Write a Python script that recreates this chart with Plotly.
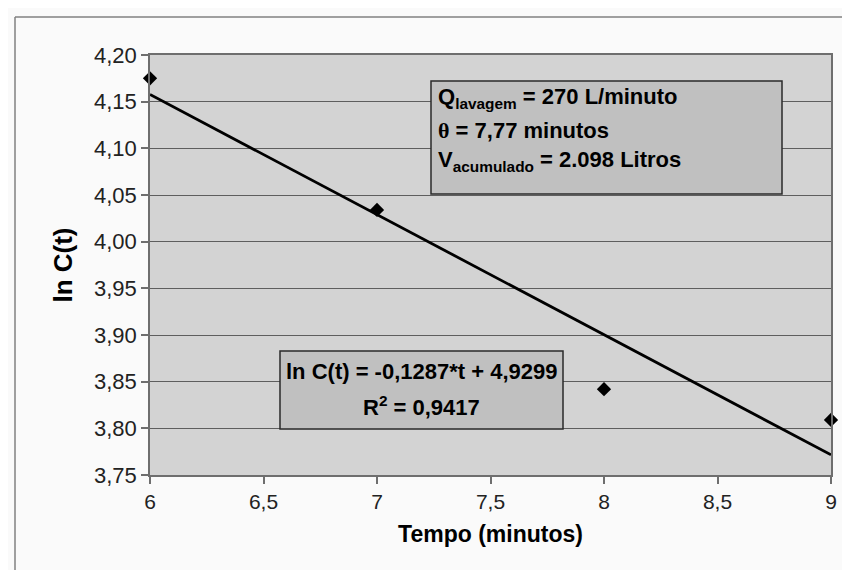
import plotly.graph_objects as go

# Data
tempo = [6, 7, 8, 9]
ln_c = [4.175, 4.034, 3.842, 3.809]
fit_slope = -0.1287
fit_intercept = 4.9299
x_tickvals = [6, 6.5, 7, 7.5, 8, 8.5, 9]
x_ticktext = ["6", "6,5", "7", "7,5", "8", "8,5", "9"]
y_tickvals = [3.75, 3.80, 3.85, 3.90, 3.95, 4.00, 4.05, 4.10, 4.15, 4.20]
y_ticktext = ["3,75", "3,80", "3,85", "3,90", "3,95", "4,00", "4,05", "4,10", "4,15", "4,20"]

fit_x = [min(tempo), max(tempo)]
fit_y = [fit_intercept + fit_slope * t for t in fit_x]

W, H = 850, 570
L, R, T, B = 142, 27, 47, 103
X0, X1 = 6, 9
Y0, Y1 = 3.75, 4.20

def xd(px):
    return X0 + (px - L) * (X1 - X0) / (W - L - R)

def yd(py):
    return Y1 - (py - T) * (Y1 - Y0) / (H - T - B)

def xp(px):
    return (px - L) / (W - L - R)

def yp(py):
    return (H - B - py) / (H - T - B)

FONT = "Liberation Sans, Arial, sans-serif"

fig = go.Figure()
fig.add_trace(go.Scatter(x=fit_x, y=fit_y, mode="lines",
                         line=dict(color="black", width=2.8),
                         showlegend=False, hoverinfo="skip"))
fig.add_trace(go.Scatter(x=tempo, y=ln_c, mode="markers",
                         marker=dict(symbol="diamond", size=11, color="black"),
                         showlegend=False, cliponaxis=False))

shapes = [
    dict(type="rect", xref="x", yref="y", x0=xd(423), x1=xd(774), y0=yd(73), y1=yd(186),
         fillcolor="#c0c0c0", line=dict(color="#2a2a2a", width=1.5), layer="above"),
    dict(type="rect", xref="x", yref="y", x0=xd(272), x1=xd(555), y0=yd(343), y1=yd(421),
         fillcolor="#c0c0c0", line=dict(color="#2a2a2a", width=1.5), layer="above"),
    dict(type="line", xref="paper", yref="paper", x0=xp(7), x1=xp(7), y0=yp(9), y1=yp(570),
         line=dict(color="#808080", width=1.5)),
    dict(type="line", xref="paper", yref="paper", x0=xp(7), x1=xp(850), y0=yp(9), y1=yp(9),
         line=dict(color="#808080", width=1.5)),
]

ann = []
box1_lines = [
    ("Q<sub>lavagem</sub> = 270 L/minuto", 90),
    ("<span style='font-family:Liberation Serif'>θ</span> = 7,77 minutos", 122),
    ("V<sub>acumulado</sub> = 2.098 Litros", 153),
]
for txt, py in box1_lines:
    ann.append(dict(text="<b>" + txt + "</b>", xref="paper", yref="paper",
                    x=xp(428), y=yp(py), xanchor="left", yanchor="middle",
                    showarrow=False, font=dict(family=FONT, size=22, color="black")))
box2_lines = [
    ("ln C(t) = -0,1287*t + 4,9299", 363),
    ("R<sup>2</sup> = 0,9417", 398),
]
for txt, py in box2_lines:
    ann.append(dict(text="<b>" + txt + "</b>", xref="paper", yref="paper",
                    x=xp(413.5), y=yp(py), xanchor="center", yanchor="middle",
                    showarrow=False, font=dict(family=FONT, size=22, color="black")))

fig.update_layout(
    width=W, height=H,
    margin=dict(l=L, r=R, t=T, b=B),
    paper_bgcolor="#fafafa",
    plot_bgcolor="#d3d3d3",
    font=dict(family=FONT, color="black"),
    shapes=shapes,
    annotations=ann,
    xaxis=dict(range=[X0, X1], tickvals=x_tickvals, ticktext=x_ticktext,
               showgrid=False, zeroline=False,
               showline=True, linecolor="#6e6e6e", linewidth=1.5, mirror=True,
               ticks="outside", ticklen=7, tickcolor="#6e6e6e", tickwidth=1.5,
               tickfont=dict(size=21, family=FONT, color="#222"),
               title=dict(text="<b>Tempo (minutos)</b>", standoff=14,
                          font=dict(size=23, family=FONT, color="black"))),
    yaxis=dict(range=[Y0, Y1], tickvals=y_tickvals, ticktext=y_ticktext,
               showgrid=True, gridcolor="#5e5e5e", gridwidth=1.2, zeroline=False,
               showline=True, linecolor="#6e6e6e", linewidth=1.5, mirror=True,
               ticks="outside", ticklen=7, tickcolor="#6e6e6e", tickwidth=1.5,
               tickfont=dict(size=22, family=FONT, color="#222"),
               title=dict(text="<b>ln C(t)</b>", standoff=14,
                          font=dict(size=26, family=FONT, color="black"))),
)

fig.write_html("out.html")
